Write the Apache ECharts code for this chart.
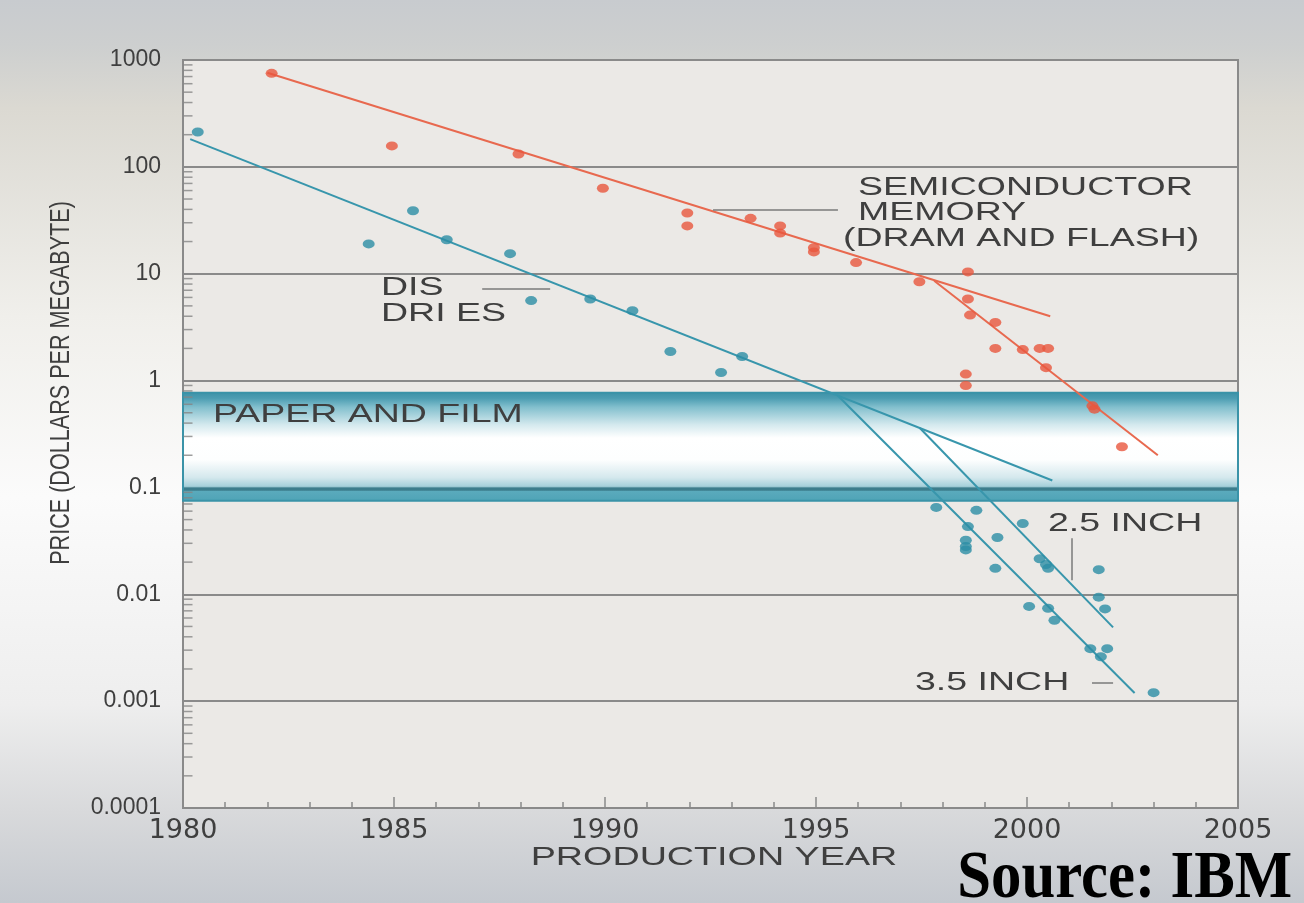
<!DOCTYPE html>
<html>
<head>
<meta charset="utf-8">
<script src="https://cdn.jsdelivr.net/npm/echarts@6/dist/echarts.min.js"></script>
<style>
html,body{margin:0;padding:0;background:#fff;}
#chart{width:1304px;height:903px;}
</style>
</head>
<body>
<div id="chart"></div>
<script>
// ---------- data ----------
const xTickYears = [1980, 1985, 1990, 1995, 2000, 2005];
const yTickValues = [0.0001, 0.001, 0.01, 0.1, 1, 10, 100, 1000];

// semiconductor memory (DRAM and flash) price points [year, $/MB]
const memoryPoints = [
  [1982.1, 750], [1984.95, 157], [1987.95, 132], [1989.95, 63],
  [1991.95, 37], [1991.95, 28], [1993.45, 33], [1994.15, 28], [1994.15, 24],
  [1994.95, 17.5], [1994.95, 16], [1995.95, 12.7], [1997.45, 8.4],
  [1998.6, 10.4], [1998.6, 5.8], [1998.65, 4.1], [1999.25, 3.5], [1999.25, 2.0],
  [1999.9, 1.95], [2000.3, 2.0], [2000.5, 2.0], [2000.45, 1.32],
  [1998.55, 1.15], [1998.55, 0.9], [2001.55, 0.58], [2001.6, 0.54], [2002.25, 0.24]
];
// disk drive price points [year, $/MB]
const diskPoints = [
  [1980.35, 212], [1984.4, 19], [1985.45, 38.8], [1986.25, 20.8], [1987.75, 15.4],
  [1988.25, 5.6], [1989.65, 5.8], [1990.65, 4.5], [1991.55, 1.87], [1992.75, 1.19],
  [1993.25, 1.68],
  [1997.85, 0.065], [1998.8, 0.061], [1998.6, 0.043], [1998.55, 0.032], [1998.55, 0.028],
  [1998.55, 0.026], [1999.3, 0.034], [1999.25, 0.0175], [1999.9, 0.046], [2000.3, 0.0215],
  [2000.45, 0.019], [2000.5, 0.0175], [2001.7, 0.017], [2001.7, 0.0094], [2001.85, 0.0073],
  [2000.05, 0.0077], [2000.5, 0.0074], [2000.65, 0.0057], [2001.5, 0.0031], [2001.9, 0.0031],
  [2001.75, 0.0026], [2003.0, 0.0012]
];
// trend lines
const memoryTrend = [[1982.0, 760], [2000.55, 4.0]];
const memoryTrendLate = [[1997.8, 8.6], [2003.1, 0.2]];
const diskTrend = [[1980.17, 182], [2000.6, 0.116]];
const disk35Trend = [[1995.52, 0.72], [2002.55, 0.00119]];
const disk25Trend = [[1997.46, 0.36], [2002.04, 0.0049]];
// paper and film band [upper, lower] $/MB
const paperFilmBand = [0.77, 0.075];
// minor log ticks on the price axis
const yMinorTicks = [
  0.0002,0.0003,0.0004,0.0005,0.0006,0.0007,0.0008,0.0009,
  0.002,0.003,0.004,0.005,0.006,0.007,0.008,0.009,
  0.02,0.03,0.04,0.05,0.06,0.07,0.08,0.09,
  0.2,0.3,0.4,0.5,0.6,0.7,0.8,0.9,
  2,3,4,5,6,7,8,9,
  20,30,40,50,60,70,80,90,
  200,300,400,500,600,700,800,900
];
// leader lines for annotations [[year, value],[year, value]]
const leaderLines = [
  [[1992.56, 39.6], [1995.52, 39.6]],
  [[1987.09, 7.24], [1988.70, 7.24]],
  [[2001.07, 0.0334], [2001.07, 0.0135]],
  [[2001.54, 0.0015], [2002.04, 0.0015]]
];
const annotationTexts = {
  semi: ['SEMICONDUCTOR', 'MEMORY', '(DRAM AND FLASH)'],
  disk: ['DIS', 'DRI ES'],
  paper: 'PAPER AND FILM',
  inch25: '2.5 INCH',
  inch35: '3.5 INCH',
  xTitle: 'PRODUCTION YEAR',
  yTitle: 'PRICE (DOLLARS PER MEGABYTE)',
  source: 'Source: IBM'
};

// ---------- styles ----------
const RED = '#e9563d', RED_LINE = '#e8694f';
const BLUE = '#2c8da5', BLUE_LINE = '#3896ac';
const TXT = '#3f3f3f';
const GRID_LINE = '#8a8a8a';

const chart = echarts.init(document.getElementById('chart'));

const option = {
  animation: false,
  backgroundColor: {
    type: 'linear', x: 0, y: 0, x2: 0, y2: 1,
    colorStops: [
      {offset: 0, color: '#c8cbcf'},
      {offset: 0.05, color: '#cdcfcf'},
      {offset: 0.12, color: '#dbd9d2'},
      {offset: 0.35, color: '#f0efeb'},
      {offset: 0.55, color: '#fbfbfb'},
      {offset: 0.78, color: '#eeeeee'},
      {offset: 0.9, color: '#d8d9db'},
      {offset: 1, color: '#c5c9cf'}
    ]
  },
  grid: {
    left: 183, right: 66, top: 60, bottom: 95,
    show: true, backgroundColor: '#ebe9e6',
    borderColor: GRID_LINE, borderWidth: 2
  },
  xAxis: {
    type: 'value', min: xTickYears[0], max: xTickYears[xTickYears.length - 1], interval: 5,
    axisLine: {lineStyle: {color: GRID_LINE, width: 2}},
    axisTick: {inside: true, length: 11, lineStyle: {color: '#8a8a8a', width: 1.5}},
    minorTick: {show: true, splitNumber: 5, length: 6, lineStyle: {color: '#8a8a8a', width: 1.5}},
    splitLine: {show: false},
    axisLabel: {
      margin: 9, color: TXT, fontFamily: 'DejaVu Sans', fontSize: 27,
      formatter: v => String(v)
    }
  },
  yAxis: {
    type: 'log', logBase: 10, min: yTickValues[0], max: yTickValues[yTickValues.length - 1],
    splitNumber: 7,
    axisLine: {lineStyle: {color: GRID_LINE, width: 2}},
    axisTick: {show: false},
    splitLine: {show: true, lineStyle: {color: GRID_LINE, width: 2}},
    axisLabel: {
      margin: 22, color: TXT, fontFamily: 'Liberation Sans', fontSize: 23,
      formatter: v => String(Number(Number(v).toPrecision(2)))
    }
  },
  series: [
    {
      name: 'band', type: 'line', data: [], z: 1, silent: true,
      markArea: {
        silent: true,
        itemStyle: {
          borderColor: '#3a93a8', borderWidth: 2,
          color: {
            type: 'linear', x: 0, y: 0, x2: 0, y2: 1,
            colorStops: [
              {offset: 0, color: '#3b90a6'},
              {offset: 0.06, color: '#4c9db2'},
              {offset: 0.14, color: '#82bfcd'},
              {offset: 0.3, color: '#d4e9ee'},
              {offset: 0.42, color: '#ffffff'},
              {offset: 0.62, color: '#fdfefe'},
              {offset: 0.78, color: '#d4e8ed'},
              {offset: 0.86, color: '#a5d0da'},
              {offset: 0.875, color: '#3c7d8c'},
              {offset: 0.895, color: '#3c7d8c'},
              {offset: 0.905, color: '#5aaabc'},
              {offset: 1, color: '#4ea3b6'}
            ]
          }
        },
        data: [[{xAxis: xTickYears[0], yAxis: paperFilmBand[0]}, {xAxis: xTickYears[xTickYears.length - 1], yAxis: paperFilmBand[1]}]]
      }
    },
    {
      name: 'leaders', type: 'line', data: [], z: 2, silent: true,
      markLine: {
        silent: true, symbol: 'none', label: {show: false},
        lineStyle: {color: '#7a7a7a', width: 1.5, type: 'solid'},
        data: leaderLines.map(l => [{coord: l[0]}, {coord: l[1]}])
      }
    },
    {
      name: 'yMinorTicks', type: 'scatter', z: 3, silent: true, clip: false,
      data: yMinorTicks.map(v => [xTickYears[0], v]),
      symbol: 'rect', symbolSize: [9, 1.5], symbolOffset: [5, 0],
      itemStyle: {color: '#858585'}
    },
    {name: 'memTrend', type: 'line', data: memoryTrend, z: 4, showSymbol: false, silent: true,
      lineStyle: {color: RED_LINE, width: 2}},
    {name: 'memTrendLate', type: 'line', data: memoryTrendLate, z: 4, showSymbol: false, silent: true,
      lineStyle: {color: RED_LINE, width: 2}},
    {name: 'diskTrend', type: 'line', data: diskTrend, z: 4, showSymbol: false, silent: true,
      lineStyle: {color: BLUE_LINE, width: 2}},
    {name: 'disk35', type: 'line', data: disk35Trend, z: 4, showSymbol: false, silent: true,
      lineStyle: {color: BLUE_LINE, width: 2}},
    {name: 'disk25', type: 'line', data: disk25Trend, z: 4, showSymbol: false, silent: true,
      lineStyle: {color: BLUE_LINE, width: 2}},
    {name: 'Semiconductor memory', type: 'scatter', data: memoryPoints, z: 5,
      symbol: 'circle', symbolSize: [12, 9], itemStyle: {color: RED}},
    {name: 'Disk drives', type: 'scatter', data: diskPoints, z: 5,
      symbol: 'circle', symbolSize: [12, 9], itemStyle: {color: BLUE}}
  ]
};
chart.setOption(option);

// ---------- annotation texts (layout) ----------
function wideText(text, x, y, opts) {
  opts = opts || {};
  return {
    type: 'text', x: x, y: y, z: 10, silent: true,
    scaleX: opts.scaleX || 1.5, scaleY: opts.scaleY || 1, rotation: opts.rotation || 0,
    style: {
      text: text,
      font: opts.font || '25px "Liberation Sans"',
      fill: opts.fill || TXT,
      align: opts.align || 'left', textAlign: opts.align || 'left',
      verticalAlign: 'middle', textVerticalAlign: 'middle'
    }
  };
}
const g = [];
g.push(wideText(annotationTexts.semi[0], 858, 188));
g.push(wideText(annotationTexts.semi[1], 858, 213));
g.push(wideText(annotationTexts.semi[2], 843, 239));
g.push(wideText(annotationTexts.disk[0], 381, 288));
g.push(wideText(annotationTexts.disk[1], 381, 314));
g.push(wideText(annotationTexts.paper, 213, 415));
g.push(wideText(annotationTexts.inch25, 1048, 524));
g.push(wideText(annotationTexts.inch35, 915, 683));
g.push(wideText(annotationTexts.xTitle, 714, 858, {align: 'center', scaleX: 1.45, font: '26px "Liberation Sans"'}));
g.push(wideText(annotationTexts.yTitle, 62, 383, {align: 'center', scaleX: 0.8, rotation: Math.PI / 2, font: '27px "Liberation Sans"'}));
g.push(wideText(annotationTexts.source, 1292, 880, {align: 'right', scaleX: 0.98, scaleY: 1.08, font: 'bold 62px "Liberation Serif"', fill: '#000'}));
chart.setOption({graphic: g});
</script>
</body>
</html>
